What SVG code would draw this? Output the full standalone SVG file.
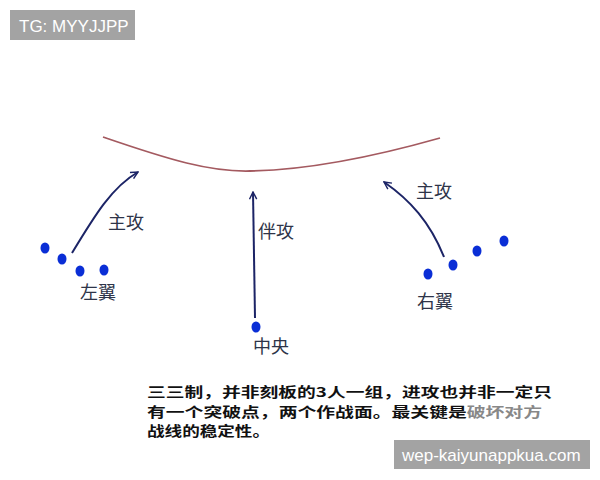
<svg xmlns="http://www.w3.org/2000/svg" width="600" height="480" viewBox="0 0 600 480">
<style>
.lbl{font-family:"Noto Sans CJK SC","Noto Sans",sans-serif;font-size:18px;fill:#2e3448}
.body{font-family:"Noto Sans CJK SC","Noto Sans",sans-serif;font-size:13.4px;font-weight:bold;fill:#111}
.dot{fill:#0a2ed6}
.arr{fill:none;stroke:#1c2466;stroke-width:2;marker-end:url(#ah)}
.wm{fill:#a3a3a3}
.wmt{font-family:"Liberation Sans",Arial,sans-serif;fill:#fff}
</style>
<defs>
<marker id="ah" viewBox="0 0 10 10" refX="9" refY="5" markerWidth="9" markerHeight="9" orient="auto" markerUnits="userSpaceOnUse">
<path d="M1,1 L9,5 L1,9" fill="none" stroke="#1c2466" stroke-width="1.6"/>
</marker>
</defs>
<rect width="600" height="480" fill="#fff"/>
<g id="watermark-top">
<rect class="wm" x="10" y="10" width="125" height="30"/>
<text class="wmt" x="19" y="31.5" font-size="17">TG: MYYJJPP</text>
</g>
<g id="defense-line">
<path d="M103,137 C170,160 210,172 250,171 C310,170 380,155 440,138" fill="none" stroke="#a45a60" stroke-width="1.8"/>
</g>
<g id="connectors">
<path class="arr" d="M72,253 C95,215 112,187 138,172"/>
<path class="arr" d="M255,318 L253,192"/>
<path class="arr" d="M444,257 C430,222 410,200 384,182"/>
</g>
<g id="left-wing">
<ellipse class="dot" cx="45" cy="248" rx="4.5" ry="5.5"/>
<ellipse class="dot" cx="62" cy="259" rx="4.5" ry="5.5"/>
<ellipse class="dot" cx="80" cy="271" rx="4.5" ry="5.5"/>
<ellipse class="dot" cx="104" cy="270" rx="4.5" ry="5.5"/>
<text class="lbl" x="80" y="299">左翼</text>
<text class="lbl" x="108" y="229">主攻</text>
</g>
<g id="center">
<ellipse class="dot" cx="256" cy="327" rx="4.5" ry="5.5"/>
<text class="lbl" x="253" y="353">中央</text>
<text class="lbl" x="258" y="238">伴攻</text>
</g>
<g id="right-wing">
<ellipse class="dot" cx="428" cy="274" rx="4.5" ry="5.5"/>
<ellipse class="dot" cx="453" cy="265" rx="4.5" ry="5.5"/>
<ellipse class="dot" cx="477" cy="251" rx="4.5" ry="5.5"/>
<ellipse class="dot" cx="504" cy="241" rx="4.5" ry="5.5"/>
<text class="lbl" x="416" y="198">主攻</text>
<text class="lbl" x="417" y="308">右翼</text>
</g>
<g id="caption">
<text class="body" x="147" y="397" textLength="405" lengthAdjust="spacingAndGlyphs">三三制，并非刻板的3人一组，进攻也并非一定只</text>
<text class="body" x="147" y="416.5" textLength="395" lengthAdjust="spacingAndGlyphs">有一个突破点，两个作战面。最关键是<tspan fill="#888">破坏对方</tspan></text>
<text class="body" x="147" y="436" textLength="123" lengthAdjust="spacingAndGlyphs">战线的稳定性。</text>
</g>
<g id="watermark-bottom">
<rect class="wm" x="394" y="440" width="196" height="29"/>
<text class="wmt" x="402" y="461" font-size="17">wep-kaiyunappkua.com</text>
</g>
</svg>
